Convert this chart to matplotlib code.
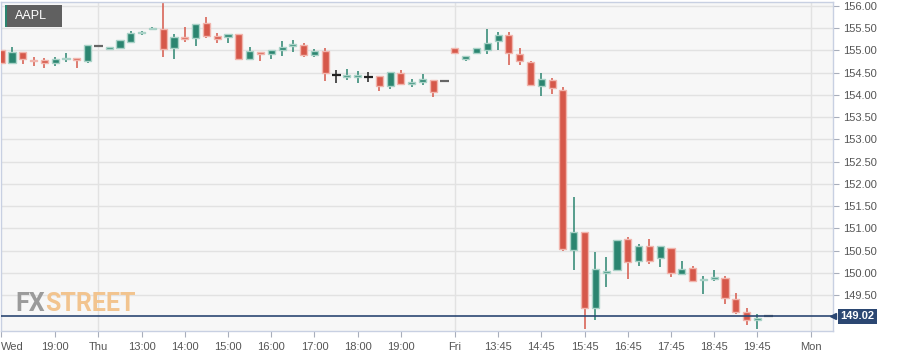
import matplotlib
matplotlib.use("Agg")
import matplotlib.pyplot as plt
import matplotlib.transforms as mtransforms
import numpy as np

# 15-minute AAPL candles (one per slot, non-trading hours collapsed)
opens = [155.01, 154.71, 154.96, 154.79, 154.78, 154.72, 154.80, 154.83, 154.76, 155.11,
         155.04, 155.05, 155.20, 155.39, 155.48, 155.48, 155.06, 155.30, 155.29, 155.62,
         155.33, 155.30, 155.36, 154.80, 154.97, 154.92, 155.01, 155.10, 155.13, 154.90,
         154.99, 154.45, 154.41, 154.41, 154.41, 154.42, 154.21, 154.49, 154.25, 154.28,
         154.34, 154.32, 155.05, 154.81, 154.95, 155.02, 155.21, 155.35, 154.92, 154.74,
         154.21, 154.34, 154.11, 150.51, 150.92, 149.20, 150.00, 150.07, 150.75, 150.27,
         150.60, 150.33, 150.56, 149.97, 150.11, 149.83, 149.87, 149.88, 149.41, 149.11,
         148.94, 149.02]
highs = [155.01, 155.08, 154.96, 154.85, 154.83, 154.85, 154.94, 154.83, 155.12, 155.11,
         155.08, 155.23, 155.44, 155.44, 155.53, 156.08, 155.36, 155.52, 155.60, 155.75,
         155.39, 155.37, 155.36, 155.08, 154.97, 155.00, 155.21, 155.23, 155.17, 155.03,
         155.06, 154.55, 154.58, 154.54, 154.51, 154.42, 154.51, 154.55, 154.36, 154.46,
         154.34, 154.32, 155.05, 154.88, 155.06, 155.48, 155.41, 155.41, 155.05, 154.76,
         154.49, 154.38, 154.17, 151.70, 150.92, 150.46, 150.35, 150.74, 150.80, 150.65,
         150.75, 150.60, 150.56, 150.26, 150.15, 149.92, 150.06, 149.92, 149.54, 149.21,
         149.08, 149.02]
lows = [154.70, 154.71, 154.69, 154.64, 154.61, 154.66, 154.73, 154.60, 154.72, 155.11,
        155.04, 155.05, 155.20, 155.35, 155.45, 154.85, 154.80, 155.20, 155.09, 155.29,
        155.17, 155.17, 154.81, 154.80, 154.76, 154.80, 154.88, 154.96, 154.86, 154.85,
        154.31, 154.26, 154.33, 154.27, 154.29, 154.09, 154.14, 154.24, 154.17, 154.22,
        153.95, 154.32, 154.95, 154.77, 154.95, 154.91, 155.01, 154.67, 154.68, 154.23,
        153.98, 154.03, 150.50, 150.06, 148.73, 148.94, 149.67, 150.07, 149.85, 150.16,
        150.19, 150.12, 149.90, 149.97, 149.81, 149.52, 149.82, 149.29, 149.07, 148.82,
        148.74, 149.02]
closes = [154.72, 154.97, 154.80, 154.76, 154.72, 154.81, 154.83, 154.78, 155.12, 155.11,
          155.08, 155.23, 155.39, 155.41, 155.50, 155.03, 155.30, 155.26, 155.60, 155.32,
          155.26, 155.37, 154.81, 154.99, 154.92, 155.00, 155.08, 155.14, 154.90, 154.98,
          154.49, 154.45, 154.44, 154.44, 154.41, 154.20, 154.51, 154.24, 154.30, 154.36,
          154.07, 154.32, 154.95, 154.88, 155.06, 155.16, 155.35, 154.94, 154.77, 154.23,
          154.36, 154.16, 150.53, 150.92, 149.20, 150.09, 150.04, 150.74, 150.25, 150.60,
          150.26, 150.60, 149.99, 150.09, 149.81, 149.87, 149.90, 149.44, 149.12, 148.94,
          148.99, 149.02]

tick_pos = [0, 5, 9, 13, 17, 21, 25, 29, 33, 37, 42, 46, 50, 54, 58, 62, 66, 70, 75]
tick_labels = ["Wed", "19:00", "Thu", "13:00", "14:00", "15:00", "16:00", "17:00", "18:00",
               "19:00", "Fri", "13:45", "14:45", "15:45", "16:45", "17:45", "18:45", "19:45", "Mon"]
day_breaks = [9, 42, 75]
last_price = 149.02
symbol = "AAPL"

UP, DOWN = "#2b8570", "#d6584a"
UP_EDGE, DOWN_EDGE = "#a9d2c7", "#f1b5ad"
NAVY = "#2b4772"

plt.rcParams["font.family"] = ["Liberation Sans", "DejaVu Sans"]

fig = plt.figure(figsize=(9.01, 3.56), dpi=100)
ax = fig.add_axes([0.0011, 25 / 356, 832 / 901, 329 / 356])
ax.set_facecolor("#f7f7f7")

x = np.arange(len(opens))
o, h, l, c = map(np.asarray, (opens, highs, lows, closes))
w = 0.66

for i in x:
    if o[i] == c[i]:
        # unchanged candle: black cross if it traded a range, grey dash otherwise
        col = "#222222" if h[i] > l[i] else "#666666"
        ax.vlines(i, l[i], h[i], color=col, lw=1.1, zorder=3)
        ax.hlines(o[i], i - 0.42, i + 0.42, color=col, lw=1.6, zorder=3)
        continue
    up = c[i] > o[i]
    col, ecol = (UP, UP_EDGE) if up else (DOWN, DOWN_EDGE)
    ax.vlines(i, l[i], h[i], color=col, lw=1.1, zorder=2)
    ax.bar(i, abs(c[i] - o[i]), bottom=min(o[i], c[i]), width=w, color=col,
           edgecolor=ecol, linewidth=1.0, zorder=3)

ax.axhline(last_price, color=NAVY, lw=1.2, zorder=4)

ax.set_xlim(-0.02, 77.0)
ax.set_ylim(148.69, 156.09)

yt = np.arange(149.5, 156.01, 0.5)
ax.set_yticks(yt)
ax.set_yticklabels([f"{v:.2f}" for v in yt])
ax.yaxis.tick_right()
ax.grid(axis="y", color="#e2e2e2", lw=1, zorder=0)
for d in day_breaks:
    ax.axvline(d, color="#e2e2e2", lw=1, zorder=0)

ax.set_xticks(tick_pos)
ax.set_xticklabels(tick_labels)
ax.get_xticklabels()[0].set_horizontalalignment("left")
ax.tick_params(axis="both", colors="#a8aebb", labelcolor="#555555", labelsize=8, length=4, width=0.8)
ax.tick_params(axis="y", pad=3)
ax.tick_params(axis="x", pad=4)

for side in ("left", "right", "bottom", "top"):
    ax.spines[side].set_color("#c8d0e2")
    ax.spines[side].set_linewidth(1)

# last price tag on the right axis
trans = mtransforms.blended_transform_factory(ax.transAxes, ax.transData)
ax.plot([1.0], [last_price], marker="<", ms=5, color=NAVY, transform=trans,
        clip_on=False, zorder=6)
ax.text(1.009, last_price, f"{last_price:.2f}", transform=trans, ha="left", va="center",
        fontsize=8, fontweight="bold", color="white", zorder=6,
        bbox=dict(boxstyle="square,pad=0.25", fc=NAVY, ec="none"))

# symbol tag, top left
fig.patches.append(plt.Rectangle((5 / 901, 1 - 27 / 356), 57 / 901, 22 / 356,
                                 transform=fig.transFigure, fc="#606060", ec="none", zorder=5))
fig.patches.append(plt.Rectangle((5 / 901, 1 - 27 / 356), 2.5 / 901, 22 / 356,
                                 transform=fig.transFigure, fc=UP, ec="none", zorder=6))
fig.text(15 / 901, 1 - 16 / 356, symbol, color="white", fontsize=9, va="center", ha="left",
         zorder=7)

# watermark: "FX" grey, "STREET" orange, set right after it
logo_font = ["Roboto", "DejaVu Sans"]
t1 = fig.text(15 / 901, 1 - 311 / 356, "FX", color="#9b9b9b", fontsize=18,
              fontweight="bold", family=logo_font, va="baseline", ha="left", zorder=7)
fig.canvas.draw()
bb = t1.get_window_extent()
fig.text(bb.x1 / 901, 1 - 311 / 356, "STREET", color="#f2c48f", fontsize=18,
         fontweight="bold", family=logo_font, va="baseline", ha="left", zorder=7)

fig.savefig("out.png", dpi=100, facecolor="white")
